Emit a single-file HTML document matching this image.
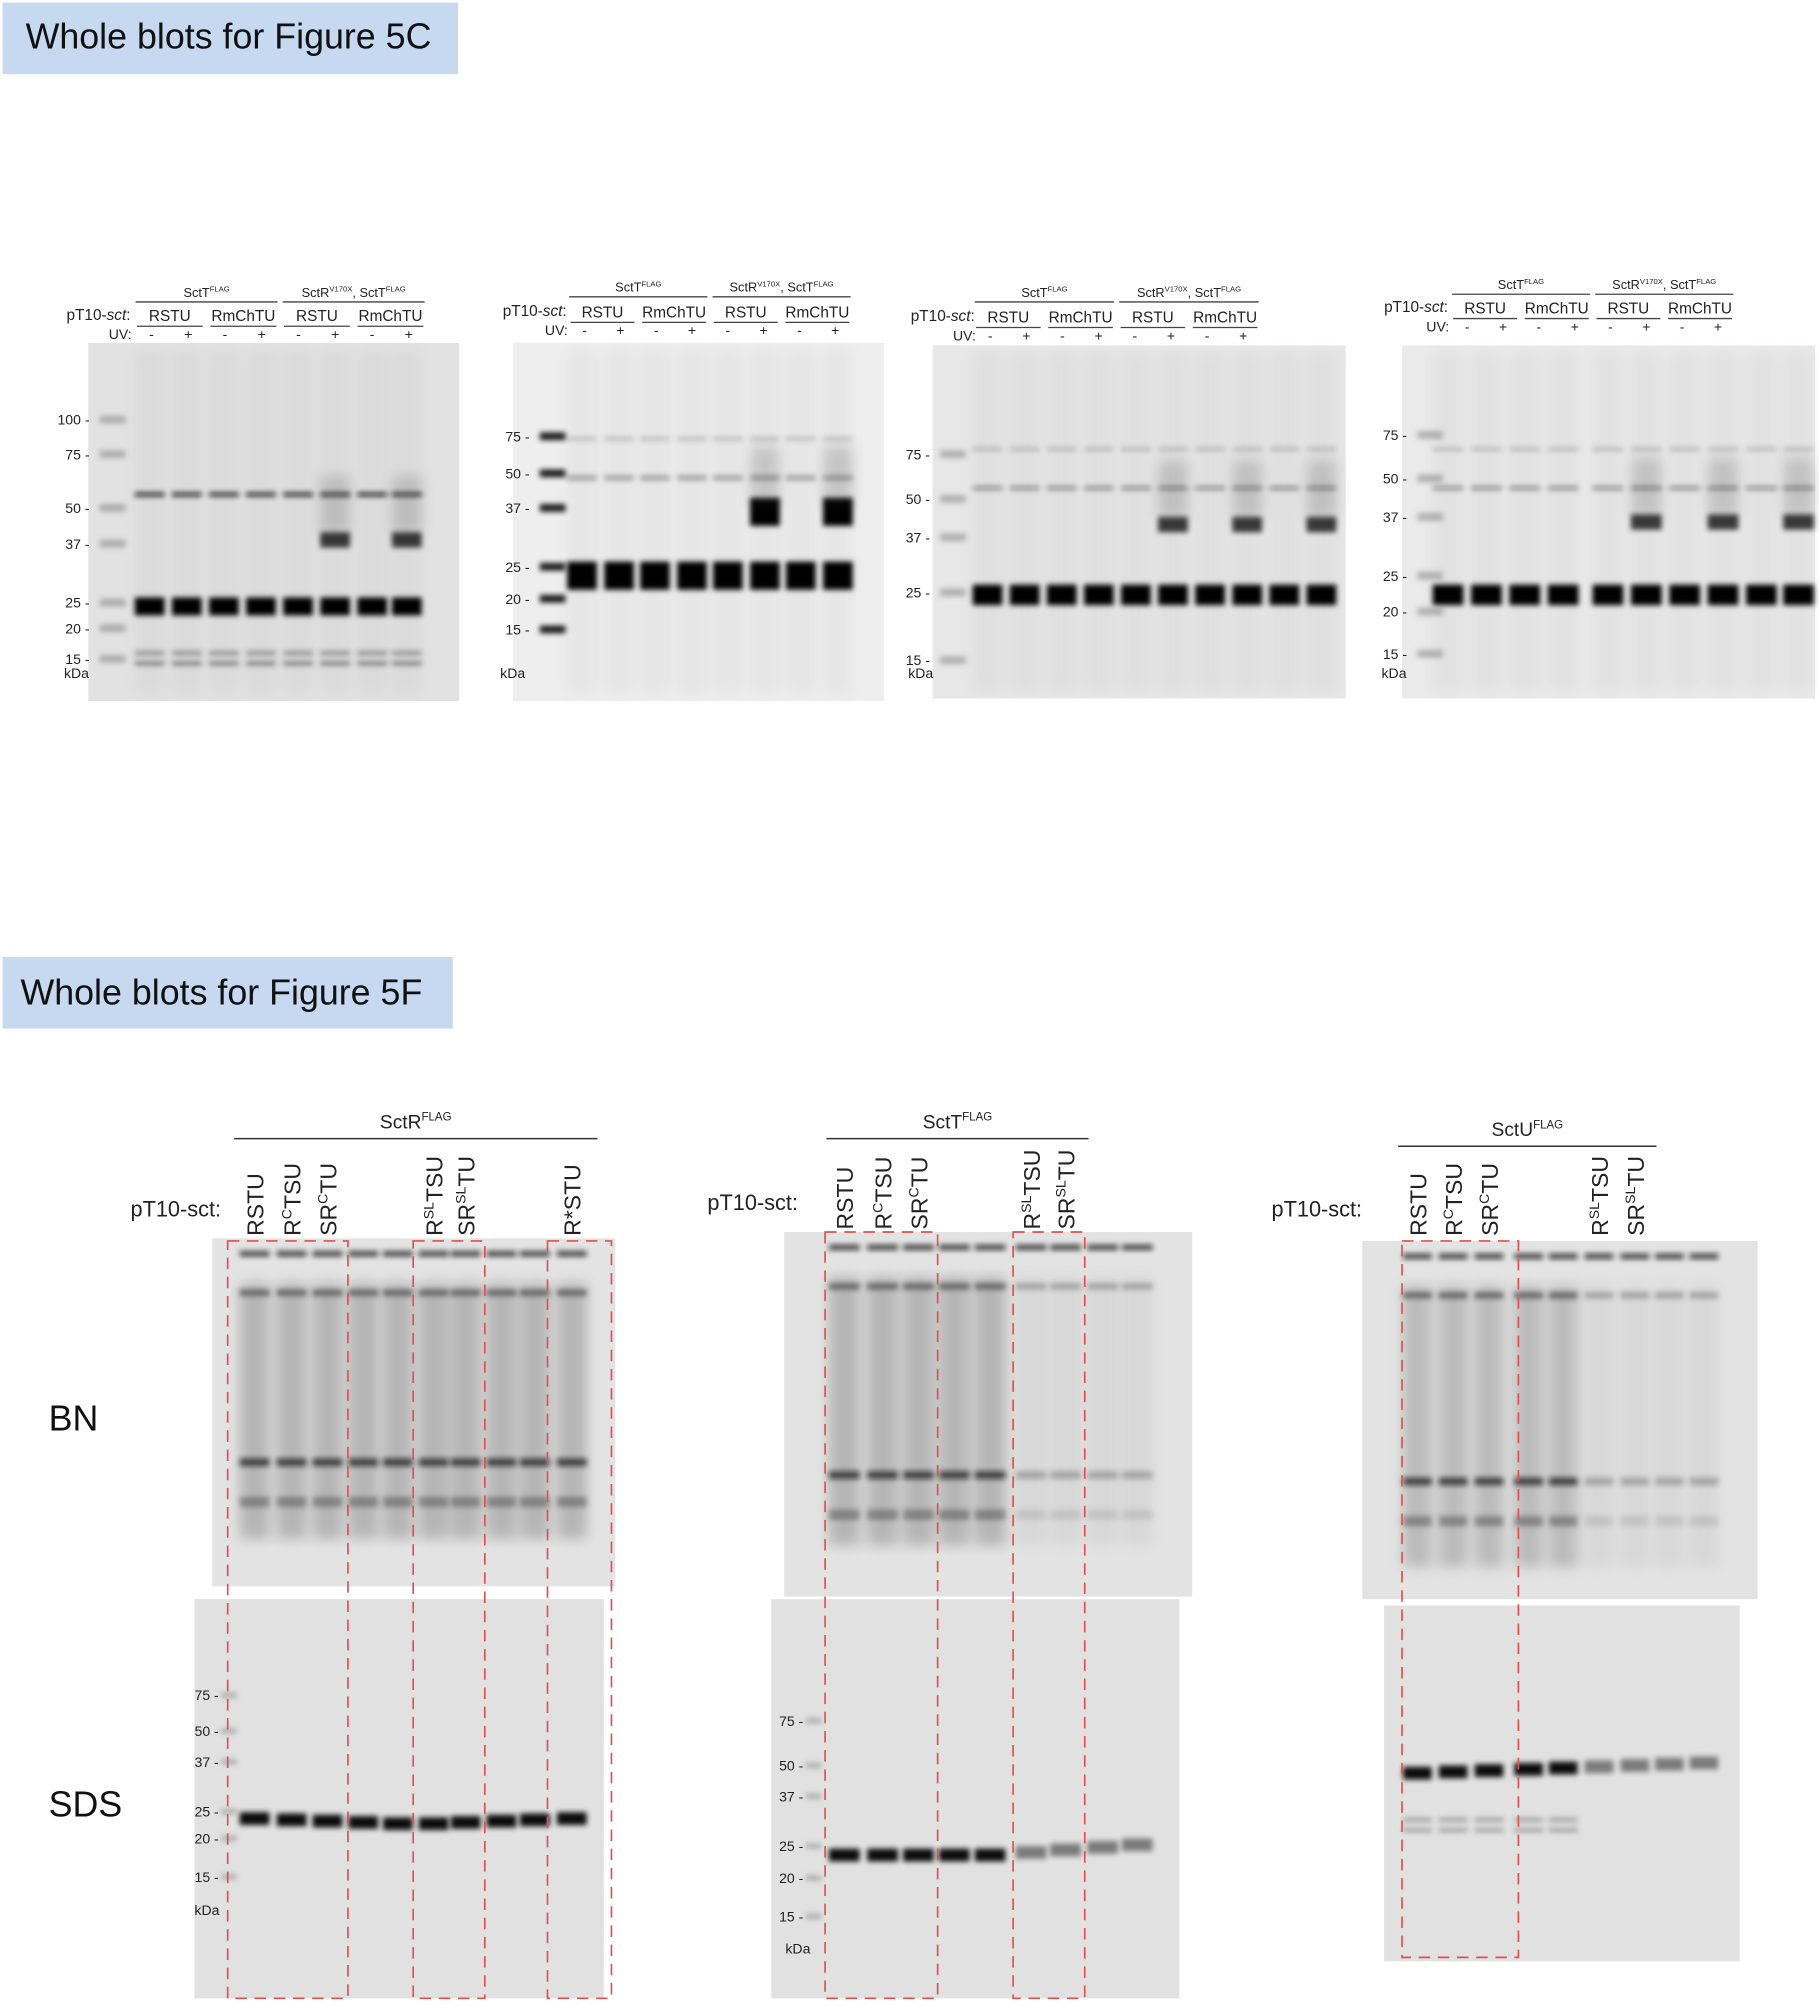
<!DOCTYPE html>
<html><head><meta charset="utf-8"><style>
html,body{margin:0;padding:0;background:#fff;}
svg{display:block;}
text{font-family:"Liberation Sans",sans-serif;}
</style></head><body>
<svg id="s" width="1819" height="2006" viewBox="0 0 1422 1568" preserveAspectRatio="none" xmlns="http://www.w3.org/2000/svg">
<defs>
<filter id="b1" filterUnits="userSpaceOnUse" x="0" y="0" width="1422" height="1568"><feGaussianBlur stdDeviation="2"/></filter>
<filter id="b2" filterUnits="userSpaceOnUse" x="0" y="0" width="1422" height="1568"><feGaussianBlur stdDeviation="5"/></filter>
</defs>
<rect x="2" y="2" width="356" height="56" fill="#c6d9f1"/>
<text x="20" y="38" font-size="28" fill="#111">Whole blots for Figure 5C</text>
<rect x="2" y="748" width="352" height="56" fill="#c6d9f1"/>
<text x="16" y="785" font-size="28" fill="#111">Whole blots for Figure 5F</text>
<text x="38" y="1118" font-size="28" fill="#111">BN</text>
<text x="38" y="1420" font-size="28" fill="#111">SDS</text>
<g id="g"></g>
</svg>
<script>
var g=document.getElementById('g'),h='';
function R(x,y,w,hh,f,o,fl){h+='<rect x="'+x+'" y="'+y+'" width="'+w+'" height="'+hh+'" fill="'+(f||'#000')+'"'+(o!=null?' opacity="'+o+'"':'')+(fl?' filter="url(#'+fl+')"':'')+'/>';}
function T(x,y,s,t,a,ex){h+='<text x="'+x+'" y="'+y+'" font-size="'+s+'" fill="#222"'+(a?' text-anchor="'+a+'"':'')+(ex||'')+'>'+t+'</text>';}
function L(x1,y1,x2,y2,c,w,d){h+='<line x1="'+x1+'" y1="'+y1+'" x2="'+x2+'" y2="'+y2+'" stroke="'+(c||'#333')+'" stroke-width="'+(w||1)+'"'+(d?' stroke-dasharray="'+d+'"':'')+'/>';}
var blots=[
 {x:69,y:268,w:290,h:280,bg:'#e2e2e2',lad:88,lanes:[117,146,175,204,233,262,291,318],main:474,mh:14,top:385,b37:[5,7],y37:422,mk:[[100,328],[75,355],[50,397],[37,425],[25,471],[20,491],[15,515]],kda:530,lx:50,hy:[230,246,261],hx:[104,334]},
 {x:401,y:268,w:290,h:280,bg:'#eeeeee',lad:432,lanes:[455,484,512,541,569,598,626,655],main:450,mh:22,top:372,b37:[5,7],y37:399,mk:[[75,341],[50,370],[37,397],[25,443],[20,468],[15,492]],kda:530,lx:391,hy:[226,243,258],hx:[443,667],ladDark:1},
 {x:729,y:270,w:323,h:276,bg:'#e7e7e7',lad:745,lanes:[772,801,830,859,888,917,946,975,1004,1033],main:465,mh:16,top:380,b37:[5,7,9],y37:410,mk:[[75,355],[50,390],[37,420],[25,463],[15,516]],kda:530,lx:710,hy:[230,247,262],hx:[760,986]},
 {x:1096,y:270,w:323,h:276,bg:'#eaeaea',lad:1118,lanes:[1132,1162,1192,1222,1257,1287,1317,1347,1377,1406],main:465,mh:16,top:380,b37:[5,7,9],y37:408,mk:[[75,340],[50,374],[37,404],[25,450],[20,478],[15,511]],kda:530,lx:1080,hy:[224,240,255],hx:[1133,1357]}
];
blots.forEach(function(b,bi){
 R(b.x,b.y,b.w,b.h,b.bg);
 var lw=(b.lanes[1]-b.lanes[0])*0.8;
 b.lanes.forEach(function(c,i){
  R(c-lw/2,b.y+5,lw,b.h-10,'#888',0.08,'b2');
  R(c-lw/2,b.main-b.mh/2,lw,b.mh,'#000',1,'b1');
  R(c-lw/2,b.top,lw,3,'#111',bi==0?0.9:0.4,'b1');
  if(bi>0)R(c-lw/2,b.top-30,lw,2,'#333',0.35,'b1');
  if(b.b37.indexOf(i)>=0){R(c-lw/2,b.y37-(bi==1?10:6),lw,bi==1?22:12,'#000',bi==1?1:0.75,'b1');R(c-lw/2,b.y37-50,lw,45,'#444',0.2,'b2');}
  if(bi==0){R(c-lw/2,b.main+35,lw,3,'#333',0.5,'b1');R(c-lw/2,b.main+43,lw,3,'#333',0.6,'b1');}
 });
 b.mk.forEach(function(m){T(b.lad-18,m[1]+4,11,m[0]+' -','end');R(b.lad-10,m[1]-3,20,6,b.ladDark?'#000':'#777',b.ladDark?0.9:0.5,'b1');});
 T(b.lx,b.kda,11,'kDa');
 var x0=b.hx[0],x1=b.hx[1],gw=(x1-x0)/4;
 T(b.lx+2,b.hy[1]+4,12,'pT10-<tspan font-style="italic">sct</tspan>:');
 T(b.lx+35,b.hy[2]+4,11,'UV:');
 for(var k=0;k<2;k++){L(x0+2*gw*k+2,b.hy[0]+6,x0+2*gw*(k+1)-2,b.hy[0]+6,'#444',1);}
 T(x0+gw,b.hy[0]+2,10,'SctT<tspan font-size="6" dy="-4">FLAG</tspan>','middle');
 T(x0+3*gw,b.hy[0]+2,10,'SctR<tspan font-size="6" dy="-4">V170X</tspan><tspan dy="4">, SctT</tspan><tspan font-size="6" dy="-4">FLAG</tspan>','middle');
 var nm=['RSTU','RmChTU','RSTU','RmChTU'];
 for(var k=0;k<4;k++){T(x0+gw*k+gw/2,b.hy[1]+5,12,nm[k],'middle');L(x0+gw*k+3,b.hy[1]+9,x0+gw*(k+1)-3,b.hy[1]+9,'#444',1);}
 for(var k=0;k<8;k++){T(x0+gw/4+gw/2*k,b.hy[2]+4,11,k%2?'+':'-','middle');}
});
function rot(x,y,t){T(x,y,18,t,null,' transform="rotate(-90 '+x+' '+y+')"');}
var F=[
 {bn:[166,968,315,272],sds:[152,1250,320,312],lanes:[199,228,256,284,311,339,364,392,418,447],hdr:'SctR',hx:[183,467],hy:890,px:102,py:951,
  labs:[[0,'RSTU'],[1,'R<tspan font-size="11" dy="-7">C</tspan><tspan dy="7">TSU</tspan>'],[2,'SR<tspan font-size="11" dy="-7">C</tspan><tspan dy="7">TU</tspan>'],[5,'R<tspan font-size="11" dy="-7">SL</tspan><tspan dy="7">TSU</tspan>'],[6,'SR<tspan font-size="11" dy="-7">SL</tspan><tspan dy="7">TU</tspan>'],[9,'R*STU']],
  boxes:[[178,272],[323,379],[428,478]],by:[970,1562],sdsY:1422,mk:[[75,1325],[50,1353],[37,1377],[25,1416],[20,1437],[15,1467]],kda:1497,lad:175,bnband:1140},
 {bn:[613,963,319,285],sds:[603,1250,319,312],lanes:[660,690,718,746,774,806,833,862,889],hdr:'SctT',hx:[646,851],hy:890,px:553,py:946,
  labs:[[0,'RSTU'],[1,'R<tspan font-size="11" dy="-7">C</tspan><tspan dy="7">TSU</tspan>'],[2,'SR<tspan font-size="11" dy="-7">C</tspan><tspan dy="7">TU</tspan>'],[5,'R<tspan font-size="11" dy="-7">SL</tspan><tspan dy="7">TSU</tspan>'],[6,'SR<tspan font-size="11" dy="-7">SL</tspan><tspan dy="7">TU</tspan>']],
  boxes:[[645,733],[792,848]],by:[963,1562],sdsY:1450,mk:[[75,1345],[50,1380],[37,1404],[25,1443],[20,1468],[15,1498]],kda:1527,lad:632,bnband:1150},
 {bn:[1065,970,309,280],sds:[1082,1255,278,278],lanes:[1108,1136,1164,1195,1222,1250,1278,1305,1332],hdr:'SctU',hx:[1093,1295],hy:896,px:994,py:951,
  labs:[[0,'RSTU'],[1,'R<tspan font-size="11" dy="-7">C</tspan><tspan dy="7">TSU</tspan>'],[2,'SR<tspan font-size="11" dy="-7">C</tspan><tspan dy="7">TU</tspan>'],[5,'R<tspan font-size="11" dy="-7">SL</tspan><tspan dy="7">TSU</tspan>'],[6,'SR<tspan font-size="11" dy="-7">SL</tspan><tspan dy="7">TU</tspan>']],
  boxes:[[1096,1187]],by:[970,1530],sdsY:1386,mk:[],kda:0,lad:0,bnband:1155}
];
F.forEach(function(f,fi){
 R(f.bn[0],f.bn[1],f.bn[2],f.bn[3],'#e3e3e3');
 R(f.sds[0],f.sds[1],f.sds[2],f.sds[3],'#e1e1e1');
 var lw=(f.lanes[1]-f.lanes[0])*0.8;
 f.lanes.forEach(function(c,i){
  var weak=(fi>0&&i>=5);
  R(c-lw/2,f.bn[1]+10,lw,4,'#111',0.8,'b1');
  R(c-lw/2,f.bn[1]+40,lw,5,'#222',weak?0.3:0.6,'b1');
  R(c-lw/2,f.bn[1]+35,lw,fi==0?200:(fi==1?210:220),'#555',weak?0.08:(fi==2?0.28:0.32),'b2');
  R(c-lw/2,f.bnband,lw,6,'#111',weak?0.25:0.7,'b1');
  R(c-lw/2,f.bnband+30,lw,8,'#333',weak?0.12:0.4,'b1');
  var yb=f.sdsY+(fi==0?Math.abs(i-4.5)*(-1)+4:(fi==1?(i<5?0:-(i-4)*2):-(i)*1));
  R(c-lw/2,yb-5,lw,10,'#000',weak?0.45:0.95,'b1');
  if(fi==2&&i<5){R(c-lw/2,f.sdsY+35,lw,3,'#333',0.4,'b1');R(c-lw/2,f.sdsY+43,lw,3,'#333',0.4,'b1');}
 });
 f.boxes.forEach(function(bx){h+='<rect x="'+bx[0]+'" y="'+f.by[0]+'" width="'+(bx[1]-bx[0])+'" height="'+(f.by[1]-f.by[0])+'" fill="none" stroke="#e05050" stroke-width="1.3" stroke-dasharray="9,6"/>';});
 f.mk.forEach(function(m){T(f.lad-4,m[1]+4,11,m[0]+' -','end');R(f.lad-2,m[1]-2,12,4,'#777',0.5,'b1');});
 if(f.kda)T(f.lad-18-(fi==0?5:0),f.kda,11,'kDa');
 L(f.hx[0],f.hy,f.hx[1],f.hy,'#333',1.2);
 T((f.hx[0]+f.hx[1])/2,f.hy-8,15,f.hdr+'<tspan font-size="9" dy="-6">FLAG</tspan>','middle');
 T(f.px,f.py,17,'pT10-sct:');
 f.labs.forEach(function(l){rot(f.lanes[l[0]]+7,f.py+15,l[1]);});
});
g.innerHTML=h;
</script>
</body></html>
